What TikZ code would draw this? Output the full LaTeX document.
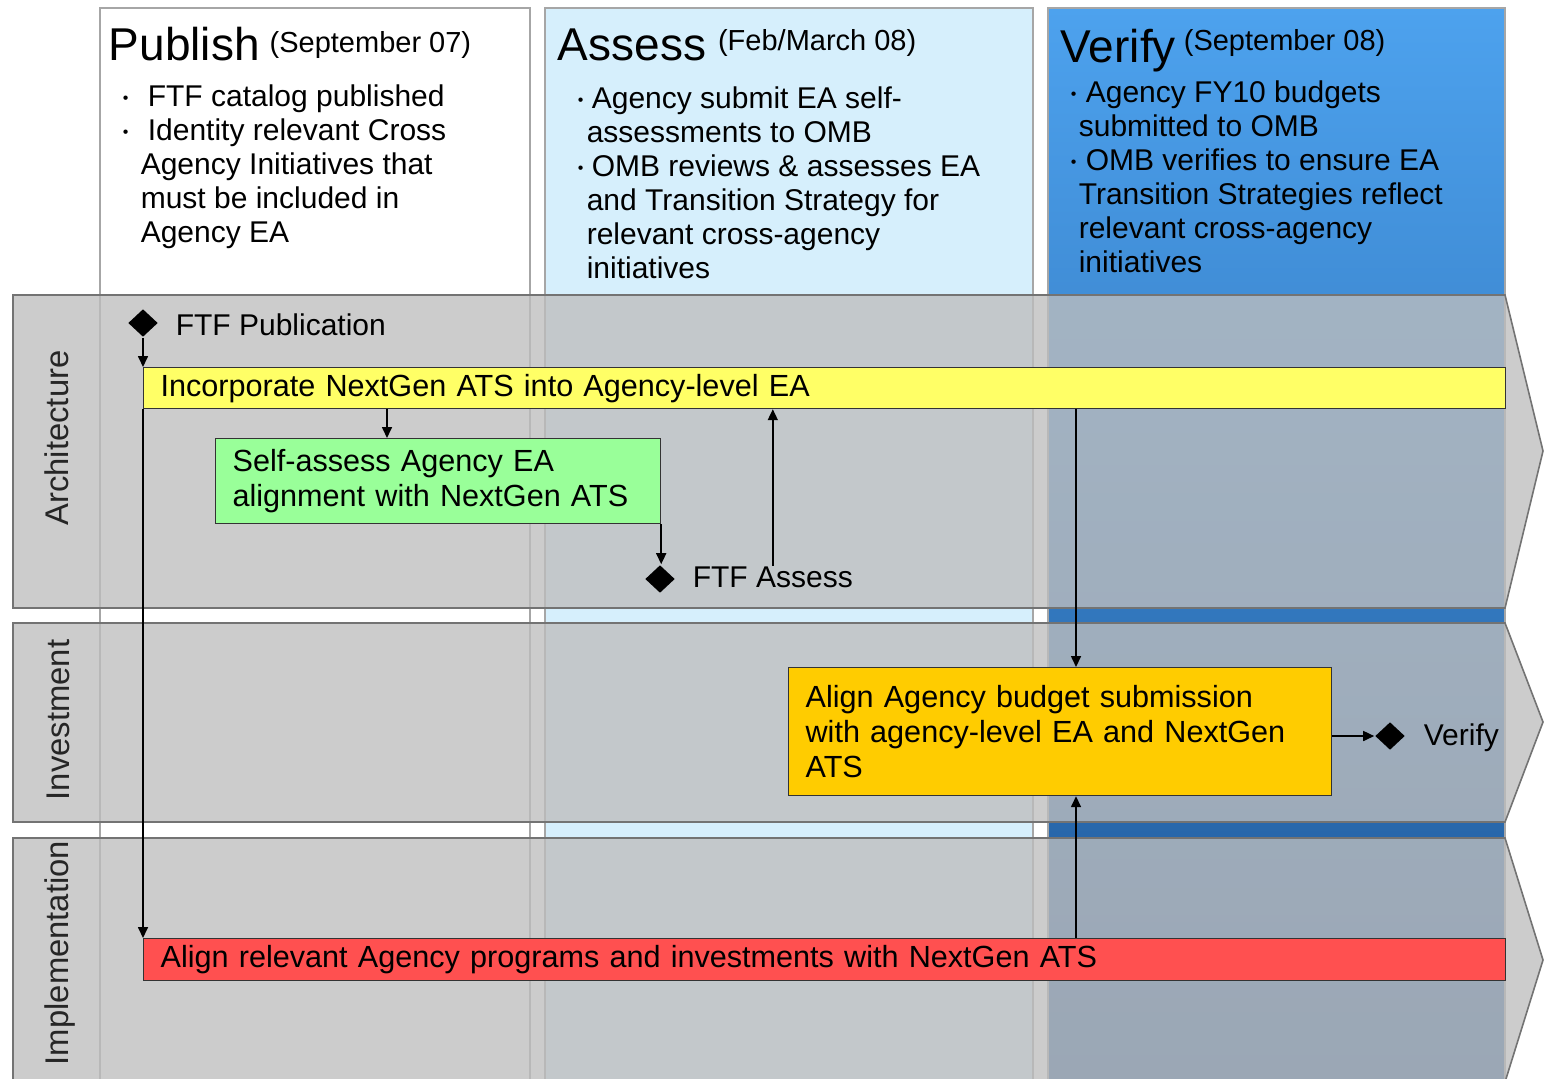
\documentclass[tikz,border=0pt]{standalone}
\usepackage{fontspec}
\setmainfont{Liberation Sans}
\usepackage{xcolor}
\usepackage{tikz}
\usetikzlibrary{arrows.meta, shapes, calc}

\definecolor{asslight}{HTML}{D6EFFC}
\definecolor{vertop}{HTML}{4DA2EE}
\definecolor{verbot}{HTML}{1D5596}
\definecolor{lanegray}{RGB}{190,190,190}
\definecolor{incyellow}{HTML}{FFFF66}
\definecolor{selfgreen}{HTML}{99FF99}
\definecolor{budorange}{HTML}{FFCC00}
\definecolor{alignred}{HTML}{FF5050}

% small bullet in a box of given width
\newcommand{\bul}[1]{\makebox[#1][l]{\raisebox{1.5pt}{\fontsize{8}{8}\selectfont\textbullet}}}
% date next to a phase title
\newcommand{\when}[2]{\raisebox{#1}{\fontsize{14.5}{14.5}\selectfont #2}}

\begin{document}
\begin{tikzpicture}[x=0.5pt, y=-0.5pt, ->, >={Triangle[length=5.5pt, width=5pt]}, thick,
		column/.style={-, draw=gray!70, line width=0.8pt},
		lane/.style={-, fill=lanegray, fill opacity=0.785, draw=black!55, line width=0.8pt},
		lanename/.style={rotate=90, anchor=base, font=\fontsize{16.4}{18}\selectfont, text=black!85},
		head/.style={anchor=base west, inner sep=0pt, font=\fontsize{23}{23}\selectfont},
		notes/.style={anchor=north west, inner sep=0pt, align=left, font=\fontsize{15}{17}\selectfont},
		task/.style={draw=black!80, semithick, anchor=north west, inner xsep=8.5pt, inner ysep=0pt, align=left, font=\fontsize{15.3}{17.5}\selectfont},
		milestone/.style={diamond, fill=black, inner sep=0pt, minimum width=15pt, minimum height=14pt},
		tag/.style={anchor=west, inner sep=0pt, font=\fontsize{15}{17}\selectfont}]
	\useasboundingbox (0,0) rectangle (1545,1078);

	% phase columns
	\draw[column, fill=white]						(100,8) rectangle (530,1090);
	\draw[column, fill=asslight]					(545,8) rectangle (1033,1090);
	\draw[column, top color=vertop, bottom color=verbot]	(1048,8) rectangle (1505,1090);

	% swim lanes
	\draw[lane] (13,295) -- (1505,295) -- (1543,451) -- (1505,608) -- (13,608) -- cycle;
	\draw[lane] (13,623) -- (1505,623) -- (1543,722) -- (1505,822) -- (13,822) -- cycle;
	\draw[lane] (13,838) -- (1505,838) -- (1543,960) -- (1505,1082) -- (13,1082) -- cycle;

	\node[lanename]	(arch)	at (68,438)	{Architecture};
	\node[lanename]	(inv)	at (69,720)	{Investment};
	\node[lanename]	(impl)	at (68,953)	{Implementation};

	% phase titles
	\node[head]	(pubhead)	at (108,60)		{Publish\hspace{5pt}\when{4pt}{(September 07)}};
	\node[head]	(asshead)	at (557,60)		{Assess\hspace{6pt}\when{5pt}{(Feb/March 08)}};
	\node[head]	(verhead)	at (1060,62)	{Verify\hspace{4pt}\when{6pt}{(September 08)}};

	\node[notes]	(pubnotes)	at (122,84)	{\bul{12.5pt}FTF catalog published\\
		\bul{12.5pt}Identity relevant Cross\\
		\hspace*{9pt}Agency Initiatives that\\
		\hspace*{9pt}must be included in\\
		\hspace*{9pt}Agency EA};
	\node[notes]	(assnotes)	at (577,86)	{\bul{7pt}Agency submit EA self-\\
		\hspace*{4.5pt}assessments to OMB\\
		\bul{7pt}OMB reviews \& assesses EA\\
		\hspace*{4.5pt}and Transition Strategy for\\
		\hspace*{4.5pt}relevant cross-agency\\
		\hspace*{4.5pt}initiatives};
	\node[notes]	(vernotes)	at (1070,80)	{\bul{7.5pt}Agency FY10 budgets\\
		\hspace*{4pt}submitted to OMB\\
		\bul{7.5pt}OMB verifies to ensure EA\\
		\hspace*{4pt}Transition Strategies reflect\\
		\hspace*{4pt}relevant cross-agency\\
		\hspace*{4pt}initiatives};

	% activities
	\node[task, fill=incyellow, text width=664pt, minimum height=20.5pt]	(incorp)	at (143,367)	{Incorporate NextGen ATS into Agency-level EA};
	\node[task, fill=selfgreen, text width=205.5pt, minimum height=42.5pt]	(selfas)	at (215,438)	{Self-assess Agency EA\\alignment with NextGen ATS};
	\node[task, fill=budorange, text width=254.5pt, minimum height=64pt]	(budget)	at (788,667)	{Align Agency budget submission\\with agency-level EA and NextGen\\ATS};
	\node[task, fill=alignred, text width=664pt, minimum height=21pt]		(align)		at (143,938)	{Align relevant Agency programs and investments with NextGen ATS};

	% milestones
	\node[milestone]	(pubms)	at (143,323)	{};
	\node[milestone]	(assms)	at (660,579)	{};
	\node[milestone]	(verms)	at (1390,736)	{};
	\node[tag]	(publbl)	at (175,325)	{FTF Publication};
	\node[tag]	(asslbl)	at (692,577)	{FTF Assess};
	\node[tag]	(verlbl)	at (1423,738)	{Verify};

	\coordinate (selfin)	at ($(selfas.north west)+(172,0)$);
	\coordinate (budin)		at ($(budget.north west)+(288,0)$);
	\coordinate (budout)	at ($(budget.south west)+(288,0)$);

	\path	(pubms) edge (incorp.north west)
			(incorp.south west) edge (align.north west)
			(incorp.south -| selfin) edge (selfin)
			(selfas.south east) edge (selfas.south east |- assms.north)
			(asslbl.north) edge (asslbl.north |- incorp.south)
			(incorp.south -| budin) edge (budin)
			(align.north -| budout) edge (budout)
			(budget.east |- verms) edge (verms);
\end{tikzpicture}
\end{document}
